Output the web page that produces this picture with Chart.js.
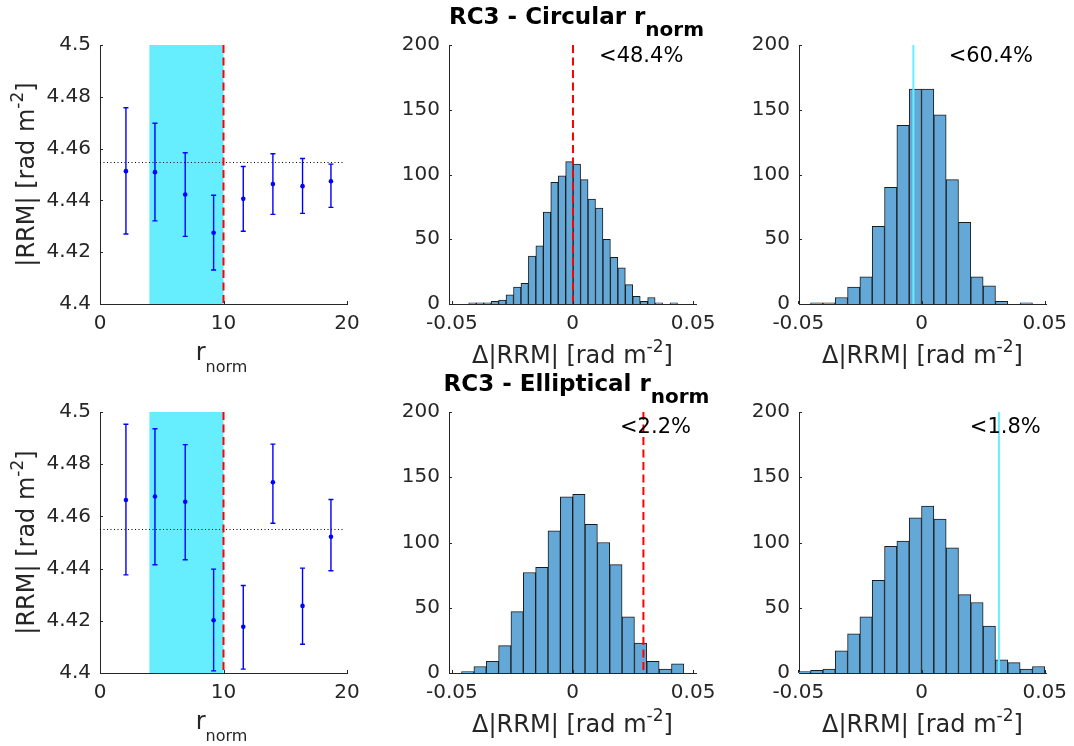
<!DOCTYPE html>
<html>
<head>
<meta charset="utf-8">
<title>RC3 |RRM| profiles</title>
<script src="https://cdn.jsdelivr.net/npm/chart.js@4.4.1/dist/chart.umd.min.js"></script>
<style>
  html, body { margin: 0; padding: 0; background: #fff; }
  #fig { position: relative; width: 1074px; height: 746px; overflow: hidden; }
  #fig canvas { position: absolute; }
</style>
</head>
<body>
<div id="fig">
  <canvas id="circProfile"></canvas>
  <canvas id="circShift"></canvas>
  <canvas id="circRot"></canvas>
  <canvas id="ellProfile"></canvas>
  <canvas id="ellShift"></canvas>
  <canvas id="ellRot"></canvas>
</div>
<script>
// radial bins (r_norm) and binned |RRM| with 1-sigma ranges
const rNorm      = [2.1, 4.45, 6.9, 9.2, 11.6, 14.0, 16.4, 18.7];
const rrmCirc    = [4.4513, 4.4509, 4.4423, 4.4275, 4.4406, 4.4463, 4.4455, 4.4474];
const rrmCircLo  = [4.4270, 4.4321, 4.4261, 4.4131, 4.4281, 4.4346, 4.4350, 4.4373];
const rrmCircHi  = [4.4758, 4.4698, 4.4584, 4.4420, 4.4531, 4.4580, 4.4562, 4.4540];
const rrmEll     = [4.4663, 4.4676, 4.4656, 4.4202, 4.4177, 4.4731, 4.4257, 4.4522];
const rrmEllLo   = [4.4376, 4.4415, 4.4434, 4.4008, 4.4015, 4.4574, 4.4110, 4.4392];
const rrmEllHi   = [4.4953, 4.4936, 4.4875, 4.4398, 4.4335, 4.4877, 4.4402, 4.4665];
const rrmMean    = 4.455;
const meanSpan   = [0, 19.7];
const coreBand   = [4, 10];
const rCut       = 10;

// Delta|RRM| histograms: first bin edge, bin width, counts
const circShiftEdge0 = -0.0430, circShiftWidth = 0.00309;
const circShiftCounts = [1, 1, 1, 2, 3, 7, 13, 16, 37, 45, 71, 94, 99, 110, 108, 96, 81, 74, 50, 36, 28, 15, 6, 2, 5, 1, 0, 1];
const circShiftCut = 0.0002, circShiftNote = '<48.4%';

const circRotEdge0 = -0.045, circRotWidth = 0.005;
const circRotCounts = [1, 1, 5, 13, 21, 60, 90, 138, 166, 166, 146, 96, 63, 21, 14, 2, 0, 1];
const circRotCut = -0.0033, circRotNote = '<60.4%';

const ellShiftEdge0 = -0.0460, ellShiftWidth = 0.00512;
const ellShiftCounts = [1, 5, 9, 21, 47, 77, 81, 109, 135, 137, 114, 100, 83, 43, 23, 9, 3, 7];
const ellShiftCut = 0.0294, ellShiftNote = '<2.2%';

const ellRotEdge0 = -0.050, ellRotWidth = 0.005;
const ellRotCounts = [1, 2, 3, 17, 30, 43, 71, 97, 101, 119, 128, 118, 96, 60, 54, 36, 10, 8, 3, 5];
const ellRotCut = 0.0314, ellRotNote = '<1.8%';

// ticks
const rTicks     = [0, 10, 20];
const rrmTicks   = [4.4, 4.42, 4.44, 4.46, 4.48, 4.5];
const countTicks = [0, 50, 100, 150, 200];
const dRrmTicks  = [-0.05, 0, 0.05];

const FONT = '"DejaVu Sans", "Liberation Sans", sans-serif';
const INK = '#262626';
const CYAN = 'rgb(102, 238, 255)';
const RED = '#ff0000';
const BLUE = '#0000ff';
const BAR = 'rgb(100, 168, 215)';

const fmt = v => String(+Number(v).toFixed(3));

// text with TeX-like sub/superscripts; parts = [[text, 0|1|-1], ...]
function rich(ctx, parts, x, y, size, opt) {
  opt = opt || {};
  const sub = opt.sub || 0.7;
  const font = s => (opt.bold ? 'bold ' : '') + s + 'px ' + FONT;
  const sz = parts.map(p => p[1] ? Math.round(size * sub) : size);
  let w = 0;
  parts.forEach((p, i) => { ctx.font = font(sz[i]); w += ctx.measureText(p[0]).width; });
  let cx = x - w / 2;
  ctx.textAlign = 'left';
  ctx.textBaseline = 'alphabetic';
  ctx.fillStyle = opt.color || INK;
  parts.forEach((p, i) => {
    ctx.font = font(sz[i]);
    const dy = p[1] > 0 ? -size * 0.45 : p[1] < 0 ? size * 0.5 : 0;
    ctx.fillText(p[0], cx, y + dy);
    cx += ctx.measureText(p[0]).width;
  });
}

const rrmLabel  = [['|RRM| [rad m', 0], ['-2', 1], [']', 0]];
const dRrmLabel = [['\u0394|RRM| [rad m', 0], ['-2', 1], [']', 0]];
const rLabel    = [['r', 0], ['norm', -1]];

// overlays: shaded band, mean line, error bars, cut line, notes, labels, inward ticks
function deco(cfg) {
  return {
    id: 'deco',
    beforeDatasetsDraw(chart) {
      const { ctx, chartArea: a, scales: { x, y } } = chart;
      ctx.save();
      if (cfg.band) {
        const x0 = x.getPixelForValue(cfg.band[0]), x1 = x.getPixelForValue(cfg.band[1]);
        ctx.fillStyle = CYAN;
        ctx.fillRect(x0, a.top, x1 - x0, a.bottom - a.top);
      }
      if (cfg.mean !== undefined) {
        const py = Math.round(y.getPixelForValue(cfg.mean)) + 0.5;
        ctx.strokeStyle = '#000';
        ctx.lineWidth = 1;
        ctx.setLineDash([1, 2.5]);
        ctx.beginPath();
        ctx.moveTo(x.getPixelForValue(meanSpan[0]), py);
        ctx.lineTo(x.getPixelForValue(meanSpan[1]), py);
        ctx.stroke();
        ctx.setLineDash([]);
      }
      if (cfg.err) {
        ctx.strokeStyle = BLUE;
        ctx.lineWidth = 1.4;
        cfg.err.x.forEach((xv, i) => {
          const px = x.getPixelForValue(xv);
          const lo = y.getPixelForValue(cfg.err.lo[i]), hi = y.getPixelForValue(cfg.err.hi[i]);
          ctx.beginPath();
          ctx.moveTo(px, lo); ctx.lineTo(px, hi);
          ctx.moveTo(px - 2.5, lo); ctx.lineTo(px + 2.5, lo);
          ctx.moveTo(px - 2.5, hi); ctx.lineTo(px + 2.5, hi);
          ctx.stroke();
        });
      }
      ctx.restore();
    },
    afterDatasetsDraw(chart) {
      const { ctx, chartArea: a, scales: { x } } = chart;
      if (cfg.cut === undefined) return;
      const px = x.getPixelForValue(cfg.cut);
      ctx.save();
      ctx.strokeStyle = cfg.cutColor;
      ctx.lineWidth = 2;
      if (cfg.cutDash) ctx.setLineDash([8, 4.5]);
      ctx.beginPath();
      ctx.moveTo(px, a.top); ctx.lineTo(px, a.bottom);
      ctx.stroke();
      ctx.restore();
    },
    afterDraw(chart) {
      const { ctx, chartArea: a, scales: { x, y } } = chart;
      ctx.save();
      // MATLAB-style inward tick marks
      ctx.strokeStyle = INK;
      ctx.lineWidth = 1;
      ctx.beginPath();
      x.ticks.forEach(t => { const px = Math.round(x.getPixelForValue(t.value)) + 0.5; ctx.moveTo(px, a.bottom); ctx.lineTo(px, a.bottom - 3); });
      y.ticks.forEach(t => { const py = Math.round(y.getPixelForValue(t.value)) + 0.5; ctx.moveTo(a.left, py); ctx.lineTo(a.left + 3, py); });
      ctx.stroke();

      if (cfg.note) {
        ctx.font = '21px ' + FONT;
        ctx.fillStyle = '#000';
        ctx.textAlign = 'left';
        ctx.textBaseline = 'middle';
        ctx.fillText(cfg.note.text, x.getPixelForValue(cfg.note.x), y.getPixelForValue(cfg.note.y));
      }
      const midX = (a.left + a.right) / 2;
      if (cfg.xLabel === 'r') rich(ctx, rLabel, midX - 2, a.bottom + 56, 24, { sub: 0.68 });
      if (cfg.xLabel === 'd') rich(ctx, dRrmLabel, midX, a.bottom + 59, 24);
      if (cfg.yLabel) {
        ctx.save();
        ctx.translate(a.left - 66, (a.top + a.bottom) / 2);
        ctx.rotate(-Math.PI / 2);
        rich(ctx, rrmLabel, 0, 0, 24);
        ctx.restore();
      }
      if (cfg.title) rich(ctx, cfg.title, midX + 4, a.top - 21, 23, { bold: true, sub: 0.86, color: '#000' });
      ctx.restore();
    }
  };
}

// cell = canvas box on the page, ax = axes box on the page
function panel(id, cell, ax, type, datasets, xs, ys, cfg) {
  const cv = document.getElementById(id);
  cv.width = cell.w; cv.height = cell.h;
  cv.style.left = cell.x + 'px'; cv.style.top = cell.y + 'px';
  const padB = cell.y + cell.h - (ax.y + ax.h);
  const padL = ax.x - cell.x;
  const tickFont = { family: FONT, size: 20 };
  const scale = (s, horiz) => ({
    type: 'linear', min: s.min, max: s.max, offset: false,
    afterBuildTicks: sc => { sc.ticks = s.ticks.map(v => ({ value: v })); },
    afterFit: sc => {
      if (horiz) sc.height = padB; else sc.width = padL;
      sc.paddingLeft = sc.paddingRight = sc.paddingTop = sc.paddingBottom = 0;
    },
    grid: { display: false, drawTicks: false },
    border: { display: true, color: INK, width: 1 },
    ticks: { font: tickFont, color: INK, padding: horiz ? 8 : 9, maxRotation: 0, autoSkip: false, callback: fmt }
  });
  return new Chart(cv, {
    type,
    data: { datasets },
    options: {
      responsive: false, animation: false, devicePixelRatio: 1, events: [],
      layout: { padding: { top: ax.y - cell.y, right: cell.x + cell.w - (ax.x + ax.w), left: 0, bottom: 0 } },
      plugins: { legend: { display: false }, tooltip: { enabled: false } },
      scales: { x: scale(xs, true), y: scale(ys, false) }
    },
    plugins: [deco(cfg)]
  });
}

function histSet(edge0, width, counts) {
  return [{
    data: counts.map((c, i) => ({ x: edge0 + (i + 0.5) * width, y: c })),
    backgroundColor: BAR, borderColor: '#1b1b1b', borderWidth: 1, borderSkipped: 'start',
    barPercentage: 1, categoryPercentage: 1, grouped: false
  }];
}
function profileSet(vals) {
  return [{
    data: rNorm.map((r, i) => ({ x: r, y: vals[i] })),
    pointRadius: 2.3, pointBackgroundColor: BLUE, pointBorderWidth: 0
  }];
}

const cols = [{ x: 0, w: 380, ax: 100 }, { x: 380, w: 360, ax: 449 }, { x: 740, w: 334, ax: 799 }];
const rows = [{ y: 0, h: 373, ax: 45, axH: 259 }, { y: 373, h: 373, ax: 412, axH: 261 }];
const cellOf = (c, r) => ({ x: cols[c].x, y: rows[r].y, w: cols[c].w, h: rows[r].h });
const axOf = (c, r) => ({ x: cols[c].ax, y: rows[r].ax, w: 247, h: rows[r].axH });

const rAxis = { min: 0, max: 20, ticks: rTicks };
const rrmAxis = { min: 4.4, max: 4.5, ticks: rrmTicks };
const countAxis = { min: 0, max: 200, ticks: countTicks };
const shiftAxis = { min: -0.0512, max: 0.0512, ticks: dRrmTicks };
const rotAxis = { min: -0.0497, max: 0.0505, ticks: dRrmTicks };

panel('circProfile', cellOf(0, 0), axOf(0, 0), 'scatter', profileSet(rrmCirc), rAxis, rrmAxis,
  { band: coreBand, mean: rrmMean, err: { x: rNorm, lo: rrmCircLo, hi: rrmCircHi }, cut: rCut, cutColor: RED, cutDash: true, xLabel: 'r', yLabel: true });
panel('circShift', cellOf(1, 0), axOf(1, 0), 'bar', histSet(circShiftEdge0, circShiftWidth, circShiftCounts), shiftAxis, countAxis,
  { cut: circShiftCut, cutColor: RED, cutDash: true, note: { text: circShiftNote, x: 0.011, y: 191 }, xLabel: 'd', title: [['RC3 - Circular r', 0], ['norm', -1]] });
panel('circRot', cellOf(2, 0), axOf(2, 0), 'bar', histSet(circRotEdge0, circRotWidth, circRotCounts), rotAxis, countAxis,
  { cut: circRotCut, cutColor: CYAN, note: { text: circRotNote, x: 0.011, y: 191 }, xLabel: 'd' });
panel('ellProfile', cellOf(0, 1), axOf(0, 1), 'scatter', profileSet(rrmEll), rAxis, rrmAxis,
  { band: coreBand, mean: rrmMean, err: { x: rNorm, lo: rrmEllLo, hi: rrmEllHi }, cut: rCut, cutColor: RED, cutDash: true, xLabel: 'r', yLabel: true });
panel('ellShift', cellOf(1, 1), axOf(1, 1), 'bar', histSet(ellShiftEdge0, ellShiftWidth, ellShiftCounts), shiftAxis, countAxis,
  { cut: ellShiftCut, cutColor: RED, cutDash: true, note: { text: ellShiftNote, x: 0.0197, y: 188 }, xLabel: 'd', title: [['RC3 - Elliptical r', 0], ['norm', -1]] });
panel('ellRot', cellOf(2, 1), axOf(2, 1), 'bar', histSet(ellRotEdge0, ellRotWidth, ellRotCounts), rotAxis, countAxis,
  { cut: ellRotCut, cutColor: CYAN, note: { text: ellRotNote, x: 0.0196, y: 188 }, xLabel: 'd' });
</script>
</body>
</html>
